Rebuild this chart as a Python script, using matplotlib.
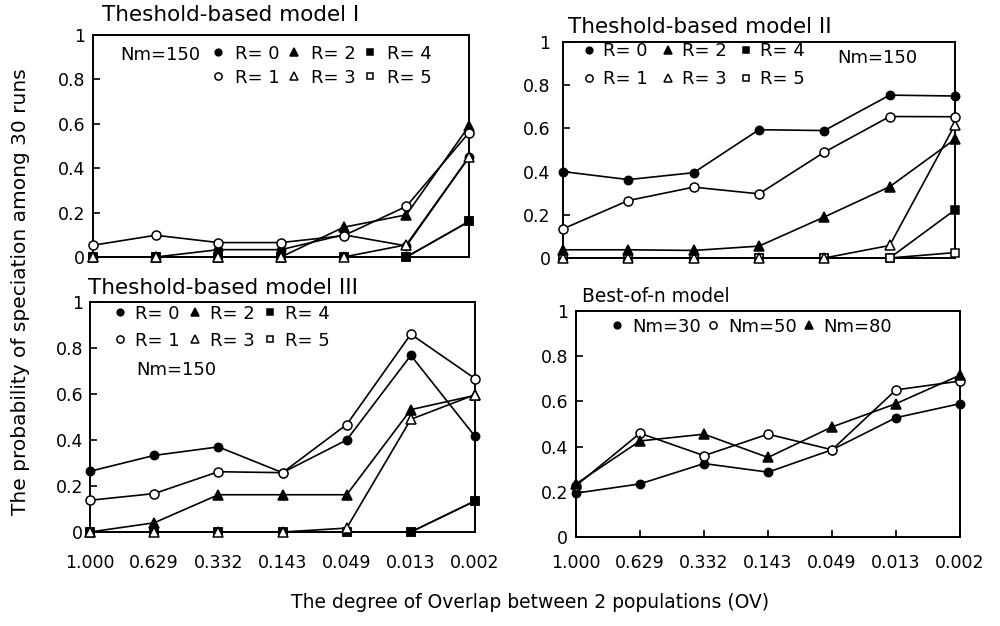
import matplotlib
matplotlib.use("Agg")
import matplotlib.pyplot as plt

plt.rcParams['font.family'] = ['DejaVu Sans']

# ---------------- data ----------------
ov_labels = ["1.000", "0.629", "0.332", "0.143", "0.049", "0.013", "0.002"]
xpos = list(range(len(ov_labels)))

# Theshold-based model I (Nm=150)
m1_r0 = [0.00, 0.00, 0.033, 0.033, 0.10, 0.05, 0.45]
m1_r1 = [0.053, 0.098, 0.065, 0.065, 0.096, 0.228, 0.56]
m1_r2 = [0.00, 0.00, 0.00, 0.00, 0.134, 0.19, 0.59]
m1_r3 = [0.00, 0.00, 0.00, 0.00, 0.00, 0.055, 0.45]
m1_r4 = [0.00, 0.00, 0.00, 0.00, 0.00, 0.00, 0.16]
m1_r5 = [0.00, 0.00, 0.00, 0.00, 0.00, 0.00, 0.16]

# Theshold-based model II (Nm=150)
m2_r0 = [0.40, 0.363, 0.395, 0.594, 0.59, 0.754, 0.75]
m2_r1 = [0.135, 0.266, 0.328, 0.297, 0.49, 0.655, 0.654]
m2_r2 = [0.038, 0.038, 0.035, 0.055, 0.19, 0.33, 0.55]
m2_r3 = [0.00, 0.00, 0.00, 0.00, 0.00, 0.058, 0.617]
m2_r4 = [0.00, 0.00, 0.00, 0.00, 0.00, 0.00, 0.223]
m2_r5 = [0.00, 0.00, 0.00, 0.00, 0.00, 0.00, 0.025]

# Theshold-based model III (Nm=150)
m3_r0 = [0.264, 0.333, 0.37, 0.258, 0.40, 0.768, 0.416]
m3_r1 = [0.138, 0.167, 0.262, 0.258, 0.467, 0.86, 0.667]
m3_r2 = [0.00, 0.04, 0.162, 0.162, 0.162, 0.532, 0.594]
m3_r3 = [0.00, 0.00, 0.00, 0.00, 0.017, 0.49, 0.597]
m3_r4 = [0.00, 0.00, 0.00, 0.00, 0.00, 0.00, 0.135]
m3_r5 = [0.00, 0.00, 0.00, 0.00, 0.00, 0.00, 0.135]

# Best-of-n model
b_nm30 = [0.194, 0.235, 0.325, 0.287, 0.386, 0.528, 0.59]
b_nm50 = [0.227, 0.459, 0.36, 0.455, 0.386, 0.651, 0.69]
b_nm80 = [0.235, 0.425, 0.455, 0.352, 0.487, 0.59, 0.716]

r_labels = ["R= 0", "R= 1", "R= 2", "R= 3", "R= 4", "R= 5"]
nm_labels = ["Nm=30", "Nm=50", "Nm=80"]
yticks = [0, 0.2, 0.4, 0.6, 0.8, 1.0]
ytick_labels = ["0", "0.2", "0.4", "0.6", "0.8", "1"]

# ---------------- styling ----------------
styles_r = [
    dict(marker='o', mfc='black', ms=6.0),
    dict(marker='o', mfc='white', ms=6.5),
    dict(marker='^', mfc='black', ms=7.0),
    dict(marker='^', mfc='white', ms=7.0),
    dict(marker='s', mfc='black', ms=6.0),
    dict(marker='s', mfc='white', ms=5.5),
]
styles_nm = [styles_r[0], styles_r[1], styles_r[2]]

fig = plt.figure(figsize=(10, 6.26), dpi=100)

def make_ax(l, t, r, b):
    W, H = 1000.0, 626.0
    return fig.add_axes([l / W, 1 - b / H, (r - l) / W, (b - t) / H])

ax1 = make_ax(93, 35, 469, 257)
ax2 = make_ax(563, 42, 955, 258)
ax3 = make_ax(90, 302, 475, 532)
ax4 = make_ax(576, 311, 960, 537)

def draw(ax, series, labels, styles, order=None):
    n = len(series)
    if order is None:
        order = list(range(n))
    handles = [None] * n
    for z, i in enumerate(order):
        h, = ax.plot(xpos, series[i], color='black', lw=1.2, mec='black',
                     mew=1.1, label=labels[i], clip_on=False, zorder=3 + z * 0.1,
                     **styles[i])
        handles[i] = h
    ax.set_xlim(0, 6)
    ax.set_ylim(0, 1)
    ax.set_yticks(yticks)
    ax.set_yticklabels(ytick_labels)
    for sp in ax.spines.values():
        sp.set_linewidth(1.4)
        sp.set_zorder(2)
    ax.tick_params(axis='y', direction='in', length=5, width=1.2,
                   labelsize=12.5)
    return handles

h1 = draw(ax1, [m1_r0, m1_r1, m1_r2, m1_r3, m1_r4, m1_r5], r_labels, styles_r,
          order=[5, 4, 0, 2, 1, 3])
h2 = draw(ax2, [m2_r0, m2_r1, m2_r2, m2_r3, m2_r4, m2_r5], r_labels, styles_r,
          order=[4, 5, 3, 0, 1, 2])
h3 = draw(ax3, [m3_r0, m3_r1, m3_r2, m3_r3, m3_r4, m3_r5], r_labels, styles_r,
          order=[5, 4, 0, 1, 2, 3])
h4 = draw(ax4, [b_nm30, b_nm50, b_nm80], nm_labels, styles_nm)

# x axes
for ax in (ax1, ax2):
    ax.set_xticks(xpos)
    ax.tick_params(axis='x', length=0, labelbottom=False)
ax3.set_xticks(xpos)
ax3.set_xticklabels(ov_labels)
ax3.tick_params(axis='x', length=0, pad=16, labelsize=12.5)
ax4.set_xticks(xpos)
ax4.set_xticklabels(ov_labels)
ax4.tick_params(axis='x', direction='in', length=5, width=1.2, pad=12,
                labelsize=12.5)
ax1.tick_params(axis='y', pad=5.5)
ax2.tick_params(axis='y', pad=9)
ax3.tick_params(axis='y', pad=5)
ax4.tick_params(axis='y', pad=5.5)

# titles
ax1.text(0.024, 1.063, "Theshold-based model I", transform=ax1.transAxes,
         fontsize=15.5, va='baseline', ha='left')
ax2.text(0.013, 1.042, "Theshold-based model II", transform=ax2.transAxes,
         fontsize=15.5, va='baseline', ha='left')
ax3.text(-0.005, 1.035, "Theshold-based model III", transform=ax3.transAxes,
         fontsize=15.5, va='baseline', ha='left')
ax4.text(0.016, 1.04, "Best-of-n model", transform=ax4.transAxes,
         fontsize=13.4, va='baseline', ha='left')

# legends
def leg(ax, handles, x0, y0, ncol, ls, htp, cs, fs=13):
    lg = ax.legend(handles=handles, loc='upper left', bbox_to_anchor=(x0, y0),
                   ncol=ncol, frameon=False, fontsize=fs, borderpad=0,
                   borderaxespad=0, handlelength=0.8, handletextpad=htp,
                   columnspacing=cs, labelspacing=ls, markerscale=0.8)
    for line in lg.get_lines():
        line.set_linestyle('none')
    return lg

leg(ax1, h1, 0.313, 0.957, 3, 0.33, 0.54, 0.4)
leg(ax2, h2, 0.048, 1.0, 3, 0.55, 0.38, 0.7)
leg(ax3, h3, 0.059, 0.989, 3, 0.5, 0.43, 0.45)
leg(ax4, h4, 0.088, 0.971, 3, 0.3, 0.43, 0.27)

ax1.text(0.072, 0.91, "Nm=150", transform=ax1.transAxes, fontsize=13,
         va='center', ha='left')
ax2.text(0.699, 0.926, "Nm=150", transform=ax2.transAxes, fontsize=13,
         va='center', ha='left')
ax3.text(0.119, 0.704, "Nm=150", transform=ax3.transAxes, fontsize=13,
         va='center', ha='left')

# shared axis labels
fig.text(0.021, 1 - 291.5 / 626, "The probability of speciation among 30 runs",
         rotation=90, ha='center', va='center', fontsize=14.5)
fig.text(0.53, 1 - 603 / 626, "The degree of Overlap between 2 populations (OV)",
         ha='center', va='center', fontsize=13.5)

fig.savefig("out.png", dpi=100)
